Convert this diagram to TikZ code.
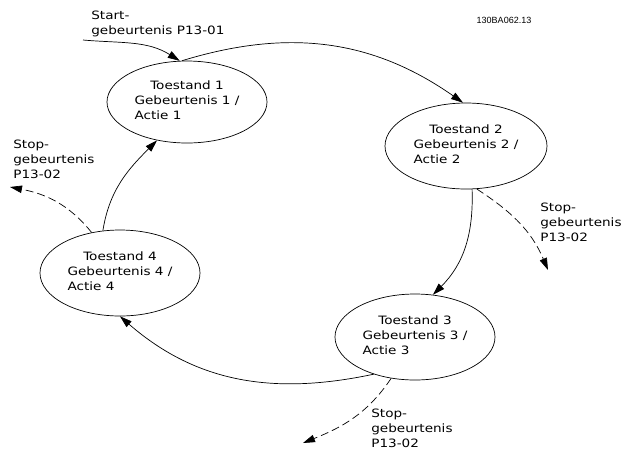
\documentclass[tikz,border=0pt]{standalone}
\usepackage{fontspec}
\setmainfont{DejaVu Sans}[FakeStretch=1.18]
\newfontfamily\idfont{Liberation Sans}
\usetikzlibrary{arrows.meta, shapes.geometric}

\newcommand{\toestandtekst}[1]{Toestand #1\\\begin{tabular}[t]{@{}l@{}}Gebeurtenis #1 /\\Actie #1\end{tabular}}

\begin{document}
\begin{tikzpicture}[x=1pt, y=1pt, >={Triangle[length=12pt, width=7.5pt]}, line width=0.7pt,
  every node/.style={font=\fontsize{11.5}{15}\selectfont},
  toestand/.style={draw, ellipse, align=center, inner sep=0pt, minimum width=160pt, minimum height=86pt},
  tekst/.style={align=left, inner sep=0pt, anchor=north west},
  stoppijl/.style={->, dash pattern=on 8pt off 4pt}]
  \useasboundingbox (0,0) rectangle (623,-451);
  \node[font=\idfont\fontsize{9}{10}\selectfont] (tekeningnr) at (504,-20) {130BA062.13};
  % toestanden
  \node[toestand, minimum height=82pt] (e1) at (187,-102) {\toestandtekst{1}};
  \node[toestand, minimum width=162pt] (e2) at (466,-146) {\toestandtekst{2}};
  \node[toestand] (e3) at (415,-337) {\toestandtekst{3}};
  \node[toestand] (e4) at (120,-273) {\toestandtekst{4}};
  % start
  \coordinate (startpunt) at (83,-40);
  \node[tekst] (startlabel) at (91,-11) {Start-\\gebeurtenis P13-01};
  \draw[->] (startpunt) to[out=-5, in=148] (e1.100);
  % overgangen
  \draw[->] (e1.97) to[out=17, in=145] (e2.94);
  \draw[->] (e2.-82) to[out=-88, in=45] (e3.67);
  \draw[->] (e3.-138) to[out=-168, in=-41] (e4.-90);
  \draw[->] (e4.112) to[out=81, in=-135] (e1.-128);
  % stop
  \coordinate (stop2) at (548,-270);
  \coordinate (stop3) at (303,-443);
  \coordinate (stop4) at (10,-187);
  \draw[stoppijl] (e2.-76) to[out=-33, in=113] (stop2);
  \draw[stoppijl] (e3.-120) to[out=-124, in=22] (stop3);
  \draw[stoppijl] (e4.125) to[out=129, in=-11] (stop4);
  \node[tekst] (stoplabel2) at (540,-203) {Stop-\\gebeurtenis\\P13-02};
  \node[tekst] (stoplabel3) at (371,-409) {Stop-\\gebeurtenis\\P13-02};
  \node[tekst] (stoplabel4) at (13,-140) {Stop-\\gebeurtenis\\P13-02};
\end{tikzpicture}
\end{document}
